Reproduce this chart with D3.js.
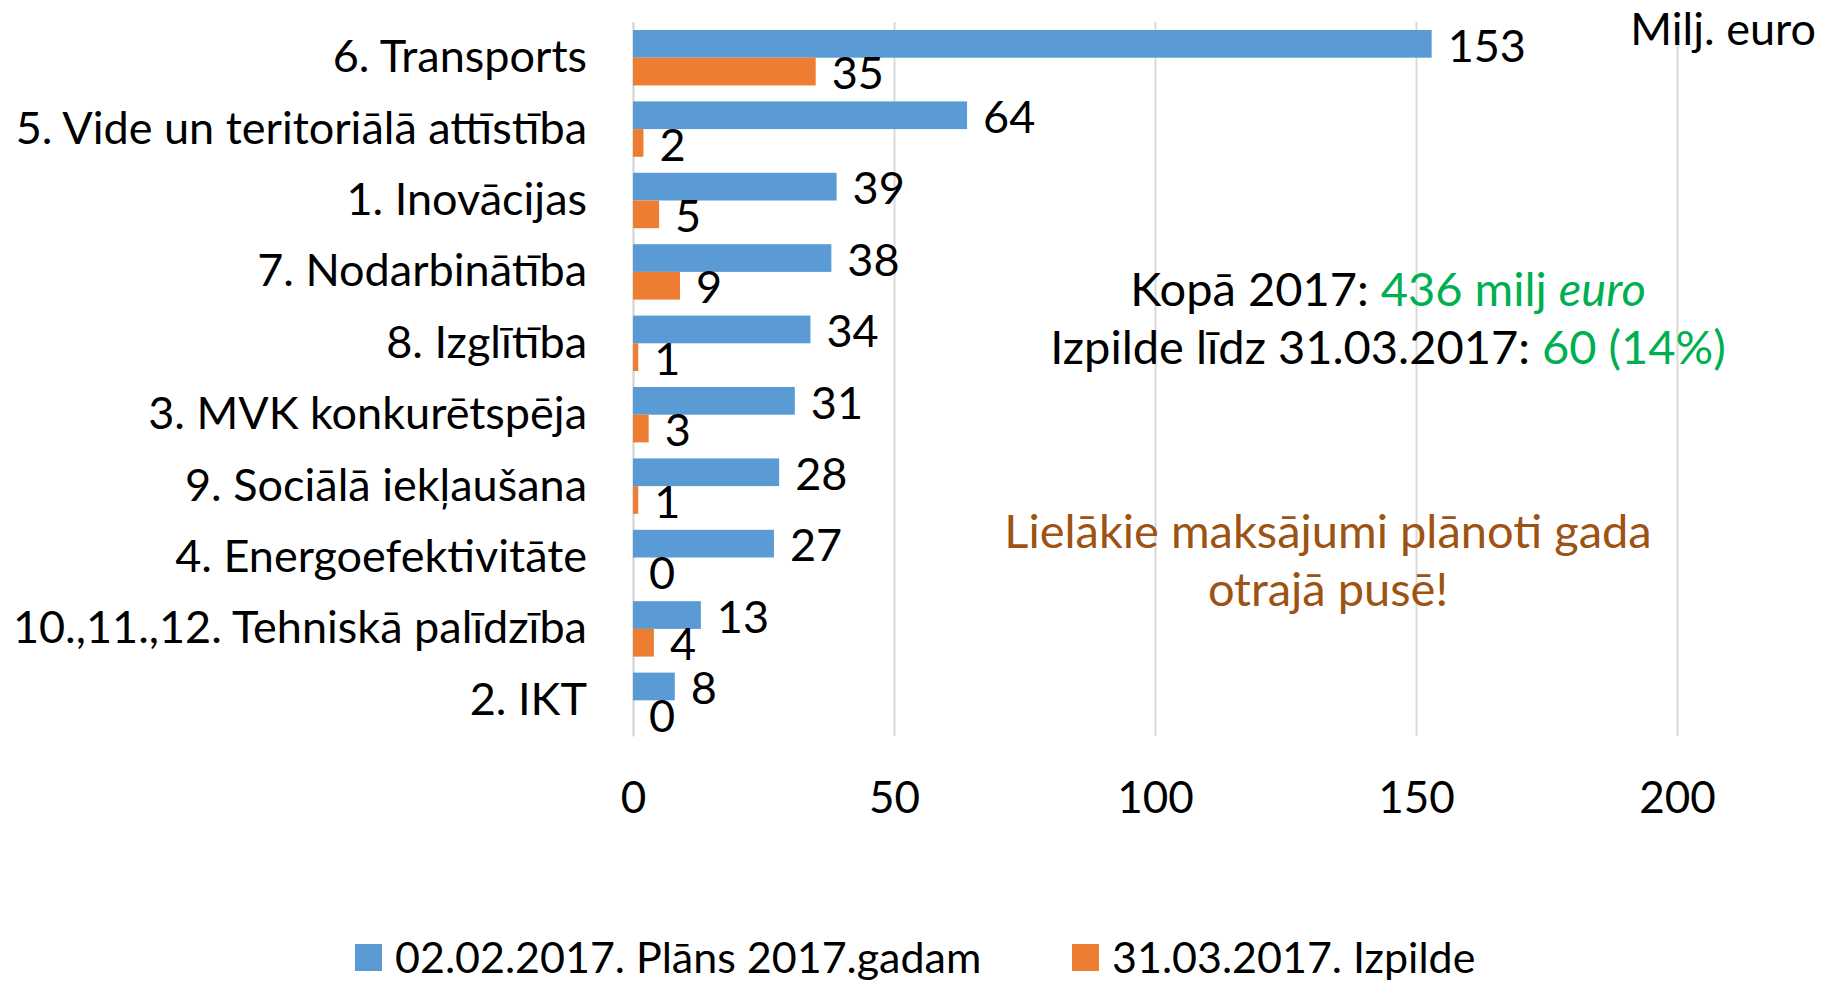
<!DOCTYPE html>
<html>
<head>
<meta charset="utf-8">
<script src="https://cdn.jsdelivr.net/npm/d3@7"></script>
<style>
  body { margin: 0; background: #fff; }
  text { font-family: Lato, "Open Sans", sans-serif; }
</style>
</head>
<body>
<div id="chart"></div>
<script>
// chart data (values in milj. euro), top to bottom
let categories = ["6. Transports", "5. Vide un teritoriālā attīstība", "1. Inovācijas",
  "7. Nodarbinātība", "8. Izglītība", "3. MVK konkurētspēja", "9. Sociālā iekļaušana",
  "4. Energoefektivitāte", "10.,11.,12. Tehniskā palīdzība", "2. IKT"]
let planValues = [153, 64, 39, 38, 34, 31, 28, 27, 13, 8]
let doneValues = [35, 2, 5, 9, 1, 3, 1, 0, 4, 0]
let seriesNames = ["02.02.2017. Plāns 2017.gadam", "31.03.2017. Izpilde"]
let xTicks = [0, 50, 100, 150, 200]

let colors = ["#5B9BD5", "#ED7D31"]
let fontSize = 45
let noteSize = 47

let svg = d3.select("#chart").append("svg")
  .attr("width", 1822)
  .attr("height", 982)

let x = d3.scaleLinear().domain([0, 200]).range([633, 1677])
let y = d3.scaleBand().domain(categories).range([22, 736])
  .paddingInner(0.224).paddingOuter(0.112)
let sub = d3.scaleBand().domain(seriesNames).range([0, y.bandwidth()])

// gridlines + tick labels
let xAxis = svg.append("g")
  .attr("transform", "translate(0,736)")
  .call(d3.axisBottom(x).tickValues(xTicks).tickSizeInner(-714).tickSizeOuter(0))
xAxis.select(".domain").remove()
xAxis.selectAll("line").attr("stroke", "#d9d9d9").attr("stroke-width", 2)
xAxis.selectAll("text")
  .attr("y", 62).attr("dy", "0.35em")
  .attr("fill", "#000")
  .style("font-size", "44px")

// category labels
let yAxis = svg.append("g")
  .attr("transform", "translate(633,0)")
  .call(d3.axisLeft(y).tickSize(0).tickPadding(46))
yAxis.select(".domain").attr("stroke", "#d9d9d9").attr("stroke-width", 2)
yAxis.selectAll("text")
  .attr("fill", "#000")
  .style("font-size", fontSize + "px")

// rows joined to data
let rows = categories.map((c, i) => ({cat: c, vals: [planValues[i], doneValues[i]]}))

let groups = svg.selectAll(".row")
  .data(rows)
  .enter()
  .append("g")
  .attr("class", "row")
  .attr("transform", d => "translate(0," + y(d.cat) + ")")

let cells = groups.selectAll("g")
  .data(d => d.vals.map((v, j) => ({v: v, s: seriesNames[j], j: j})))
  .enter()
  .append("g")

cells.append("rect")
  .attr("x", x(0))
  .attr("y", d => sub(d.s))
  .attr("width", d => x(d.v) - x(0))
  .attr("height", sub.bandwidth())
  .style("fill", d => colors[d.j])

cells.append("text")
  .attr("x", d => x(d.v) + 16)
  .attr("y", d => sub(d.s) + sub.bandwidth() / 2 + 2)
  .attr("dy", "0.35em")
  .style("font-size", fontSize + "px")
  .text(d => d3.format(".0f")(d.v))

// unit
svg.append("text")
  .attr("x", 1816).attr("y", 29).attr("dy", "0.35em")
  .attr("text-anchor", "end")
  .style("font-size", fontSize + "px")
  .text("Milj. euro")

// summary annotation
let note1 = svg.append("text")
  .attr("x", 1388).attr("y", 306)
  .attr("text-anchor", "middle")
  .style("font-size", noteSize + "px")
note1.append("tspan").text("Kopā 2017: ")
note1.append("tspan").attr("fill", "#00B050").text("436 milj ")
note1.append("tspan").attr("fill", "#00B050").style("font-style", "italic").text("euro")

let note2 = svg.append("text")
  .attr("x", 1388).attr("y", 364)
  .attr("text-anchor", "middle")
  .style("font-size", noteSize + "px")
note2.append("tspan").text("Izpilde līdz 31.03.2017: ")
note2.append("tspan").attr("fill", "#00B050").text("60 (14%)")

svg.selectAll(".warn")
  .data(["Lielākie maksājumi plānoti gada", "otrajā pusē!"])
  .enter()
  .append("text")
  .attr("class", "warn")
  .attr("x", 1328)
  .attr("y", (d, i) => 548 + i * 58)
  .attr("text-anchor", "middle")
  .attr("fill", "#9C5313")
  .style("font-size", noteSize + "px")
  .text(d => d)

// legend
let legendX = [355, 1072]
let legend = svg.selectAll(".legend")
  .data(seriesNames)
  .enter()
  .append("g")
  .attr("class", "legend")
  .attr("transform", (d, i) => "translate(" + legendX[i] + ",944)")

legend.append("rect")
  .attr("width", 27).attr("height", 27)
  .style("fill", (d, i) => colors[i])

legend.append("text")
  .attr("x", 40).attr("y", 13.5).attr("dy", "0.35em")
  .style("font-size", "43px")
  .text(d => d)
</script>
</body>
</html>
